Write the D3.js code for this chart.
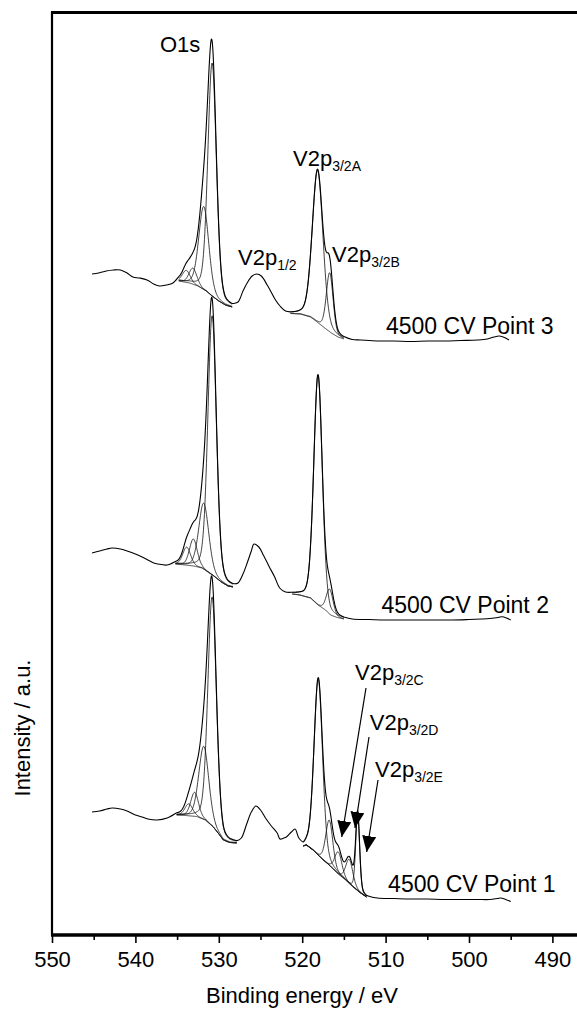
<!DOCTYPE html>
<html>
<head>
<meta charset="utf-8">
<script src="https://cdn.jsdelivr.net/npm/d3@7"></script>
<style>
  body { margin: 0; background: #fff; }
  text { font-family: Arial, "Liberation Sans", sans-serif; fill: #000; }
</style>
</head>
<body>
<svg id="chart" width="577" height="1009"></svg>
<script>
// ---- axis ticks (binding energy, eV) ----
const xTicks = [550, 540, 530, 520, 510, 500, 490];
const xMinorTicks = [545, 535, 525, 515, 505, 495];

// ---- sample names ----
const sampleNames = ["4500 CV Point 3", "4500 CV Point 2", "4500 CV Point 1"];

// ---- peak label texts ----
const peakMain = ["O1s", "V2p", "V2p", "V2p", "V2p", "V2p", "V2p"];
const peakSub  = ["",    "1/2", "3/2A", "3/2B", "3/2C", "3/2D", "3/2E"];

// ---- Point 3: measured trace outside the fit windows [eV, counts] ----
const raw3 = [
  [545.2, 661], [544.4, 662], [543.5, 664], [542.6, 665], [541.8, 665], [541.0, 662],
  [540.3, 658], [539.5, 657], [538.6, 655], [537.8, 651], [537.1, 649], [536.3, 650],
  [535.5, 652], [534.8, 654],
  [528.4, 628], [527.7, 633], [527.1, 644], [526.6, 652], [526.0, 659], [525.45, 661],
  [524.9, 659], [524.2, 650], [523.86, 645], [523.2, 635], [522.66, 629], [522.0, 624],
  [521.4, 621.5],
  [515.0, 596], [514.0, 595.5], [513.0, 595], [511.0, 594], [509.0, 594], [507.0, 593.5],
  [505.0, 594], [503.0, 594], [501.0, 594.5], [499.0, 595], [497.8, 596], [497.0, 598],
  [496.4, 599], [495.9, 598], [495.2, 595]
];
// O1s fit window
const bg3a = [[534.8, 654], [533.5, 652], [532.5, 649], [531.5, 644], [530.8, 639], [530.0, 634], [529.2, 630], [528.4, 628]];
const peaks3a = [[533.9, 12, 1.1], [533.1, 16, 1.1], [531.8, 83, 1.4], [530.8, 233, 1.2]];   // [centre eV, height, FWHM]
// V2p3/2 fit window
const bg3b = [[521.4, 621.5], [520.2, 621], [519.0, 618], [518.2, 613], [517.3, 607], [516.5, 602], [515.7, 598], [515.0, 596]];
const peaks3b = [[518.15, 152, 1.5], [516.7, 59, 0.95]];

// ---- Point 2 ----
const raw2 = [
  [545.2, 382], [544.3, 384], [543.4, 386], [542.8, 387], [541.8, 386], [541.0, 384],
  [540.0, 381], [539.2, 378], [538.5, 375], [537.8, 372], [537.3, 371], [536.2, 370],
  [535.2, 371],
  [528.3, 348], [527.7, 352], [527.1, 361], [526.6, 372], [526.1, 384], [525.78, 391],
  [525.2, 388], [524.6, 379], [524.0, 369], [523.3, 358], [522.7, 347], [522.0, 343],
  [521.2, 341],
  [515.0, 316], [514.0, 316], [512.0, 315.5], [510.0, 315], [508.0, 315], [506.0, 315],
  [504.0, 315], [502.0, 315], [500.0, 315.5], [498.5, 316], [497.5, 316.5], [496.5, 317.5],
  [496.0, 318.3], [495.5, 317], [495.0, 315]
];
const bg2a = [[535.2, 371], [534.0, 370], [533.0, 369], [532.0, 367], [531.3, 363], [530.6, 359], [529.7, 353], [528.9, 349], [528.3, 348]];
const peaks2a = [[533.85, 18, 1.1], [533.05, 27, 1.1], [531.8, 66, 1.4], [530.8, 259, 1.2]];
const bg2b = [[521.2, 341], [520.3, 340], [519.0, 337], [518.1, 330], [517.2, 325], [516.6, 320], [515.8, 317.5], [515.0, 316]];
const peaks2b = [[518.1, 230, 1.2], [516.7, 25, 0.95]];

// ---- Point 1 ----
const raw1 = [
  [545.2, 123], [544.3, 124], [543.4, 126], [542.8, 127], [541.8, 126], [541.0, 124],
  [540.0, 120], [539.2, 118], [538.5, 116], [537.4, 115], [536.2, 117], [535.05, 120],
  [527.85, 92], [527.3, 97], [526.7, 110], [526.1, 123], [525.55, 129], [525.0, 125],
  [524.4, 117], [523.7, 109], [523.0, 102], [522.66, 96], [522.2, 97], [521.9, 98],
  [521.3, 103], [520.86, 106], [520.4, 97], [519.87, 89],
  [512.3, 38], [511.0, 37], [509.0, 36.5], [507.0, 36], [505.0, 36], [503.0, 35.5],
  [501.0, 35.5], [499.0, 35.5], [497.5, 35.5], [496.6, 36.5], [496.2, 37], [495.6, 35.5],
  [495.0, 33.5]
];
const bg1a = [[535.05, 120], [534.0, 119.5], [532.65, 118.5], [531.6, 115], [530.66, 108], [529.9, 100], [529.46, 95], [528.7, 92.5], [527.85, 92]];
const peaks1a = [[533.6, 12, 1.1], [532.9, 24, 1.1], [531.8, 73, 1.4], [530.8, 229, 1.2]];
const bg1b = [[519.87, 89], [519.5, 90], [518.7, 85], [518.1, 80], [517.47, 75], [516.7, 69.5], [515.8, 62], [514.8, 55], [513.9, 48], [513.0, 42], [512.3, 38]];
const peaks1b = [[518.07, 176, 1.2], [516.75, 45, 1.0], [515.67, 22, 1.0], [514.35, 24, 1.0], [513.35, 77, 0.55]];

// ---- arrows pointing at the small V2p3/2 components of Point 1 [eV, counts] ----
const arrowTails = [[512.35, 247], [511.99, 198], [510.91, 155]];
const arrowHeads = [[515.26, 98], [513.67, 107], [512.27, 83]];

// Lorentzian fraction of the pseudo-Voigt line shape used by the fit
const lorentzFraction = 0.2;

// ================= drawing =================
const W = 577, H = 1009;
const svg = d3.select("#chart");
const x = d3.scaleLinear().domain([550, 487.05]).range([52, 577]);
const y = d3.scaleLinear().domain([0, 923]).range([935, 12]);

const spectra = [
  { raw: raw3, fits: [{ bg: bg3a, peaks: peaks3a }, { bg: bg3b, peaks: peaks3b }] },
  { raw: raw2, fits: [{ bg: bg2a, peaks: peaks2a }, { bg: bg2b, peaks: peaks2b }] },
  { raw: raw1, fits: [{ bg: bg1a, peaks: peaks1a }, { bg: bg1b, peaks: peaks1b }] }
];

function pseudoVoigt(e, p) {
  const t = (e - p[0]) / p[2];
  return p[1] * ((1 - lorentzFraction) * Math.exp(-4 * Math.LN2 * t * t) +
                 lorentzFraction / (1 + 4 * t * t));
}

const smoothLine = d3.line().x(d => x(d[0])).y(d => y(d[1])).curve(d3.curveCatmullRom.alpha(0.5));
const plainLine = d3.line().x(d => x(d[0])).y(d => y(d[1]));

const plot = svg.append("g");

spectra.forEach(s => {
  const envelopePts = [];
  const windows = [];
  s.fits.forEach(f => {
    const es = f.bg.map(d => d[0]);
    const hi = d3.max(es), lo = d3.min(es);
    windows.push([lo, hi]);
    const bgAt = d3.scaleLinear().domain(es).range(f.bg.map(d => d[1]));
    const grid = d3.range(hi, lo, -0.04).concat([lo]);

    // Shirley-type background
    plot.append("path")
      .attr("d", plainLine(grid.map(e => [e, bgAt(e)])))
      .attr("fill", "none").attr("stroke", "#111").attr("stroke-width", 0.8);

    // individual components
    f.peaks.forEach(p => {
      plot.append("path")
        .attr("d", plainLine(grid.map(e => [e, bgAt(e) + pseudoVoigt(e, p)])))
        .attr("fill", "none").attr("stroke", "#111").attr("stroke-width", 0.8);
    });

    // fit envelope
    grid.forEach(e => envelopePts.push([e, bgAt(e) + d3.sum(f.peaks, p => pseudoVoigt(e, p))]));
  });

  const outside = s.raw.filter(d => !windows.some(w => d[0] >= w[0] && d[0] <= w[1]));
  const trace = outside.concat(envelopePts).sort((a, b) => b[0] - a[0]);

  plot.append("path")
    .attr("d", smoothLine(trace))
    .attr("fill", "none").attr("stroke", "#000").attr("stroke-width", 1.1)
    .attr("stroke-linejoin", "round");
});

// ---- frame ----
svg.append("line").attr("x1", x(550)).attr("x2", x(550)).attr("y1", y(923)).attr("y2", y(0))
  .attr("stroke", "#000").attr("stroke-width", 2.2);
svg.append("line").attr("x1", x(550) - 1).attr("x2", W).attr("y1", 12.5).attr("y2", 12.5)
  .attr("stroke", "#000").attr("stroke-width", 3);

// ---- bottom axis ----
const axisG = svg.append("g").attr("transform", `translate(0,${y(0)})`);
axisG.call(d3.axisBottom(x).tickValues(xTicks).tickSize(8).tickPadding(8).tickFormat(d3.format("d")));
axisG.select(".domain").attr("stroke-width", 3.5).attr("d", `M${x(550) - 1},0H${W}`);
axisG.selectAll(".tick line").attr("stroke-width", 1.6);
axisG.selectAll(".tick text").attr("font-size", 22).attr("font-family", "Arial, 'Liberation Sans', sans-serif").attr("fill", "#000");
const minorG = svg.append("g").attr("transform", `translate(0,${y(0)})`);
minorG.call(d3.axisBottom(x).tickValues(xMinorTicks).tickSize(5).tickFormat(""));
minorG.select(".domain").remove();
minorG.selectAll(".tick line").attr("stroke-width", 1.6);

// ---- axis titles ----
svg.append("text").attr("x", 302).attr("y", 1003).attr("text-anchor", "middle")
  .attr("font-size", 22).text("Binding energy / eV");
svg.append("text").attr("transform", "translate(30,728) rotate(-90)").attr("text-anchor", "middle")
  .attr("font-size", 22).text("Intensity / a.u.");

// ---- peak labels (anchors in eV / counts) ----
const peakLabelAt = [[537.05, 883], [527.7, 670], [521.1, 769], [516.43, 673], [513.67, 255], [511.9, 205], [511.27, 158]];
peakMain.forEach((m, i) => {
  const t = svg.append("text").attr("x", x(peakLabelAt[i][0])).attr("y", y(peakLabelAt[i][1]))
    .attr("font-size", 22);
  t.append("tspan").text(m);
  if (peakSub[i]) t.append("tspan").attr("font-size", 14).attr("dy", 5).text(peakSub[i]);
});

// ---- sample labels ----
const sampleLabelAt = [[509.95, 601], [510.5, 322], [509.7, 43]];
sampleNames.forEach((n, i) => {
  svg.append("text").attr("x", x(sampleLabelAt[i][0])).attr("y", y(sampleLabelAt[i][1]))
    .attr("font-size", 23).text(n);
});

// ---- arrows ----
svg.append("defs").append("marker")
  .attr("id", "head").attr("markerUnits", "userSpaceOnUse")
  .attr("markerWidth", 16).attr("markerHeight", 14).attr("refX", 16).attr("refY", 7)
  .attr("orient", "auto")
  .append("path").attr("d", "M0,0L16,7L0,14Z").attr("fill", "#000");
arrowTails.forEach((a, i) => {
  svg.append("line")
    .attr("x1", x(a[0])).attr("y1", y(a[1]))
    .attr("x2", x(arrowHeads[i][0])).attr("y2", y(arrowHeads[i][1]))
    .attr("stroke", "#000").attr("stroke-width", 1.2)
    .attr("marker-end", "url(#head)");
});
</script>
</body>
</html>
